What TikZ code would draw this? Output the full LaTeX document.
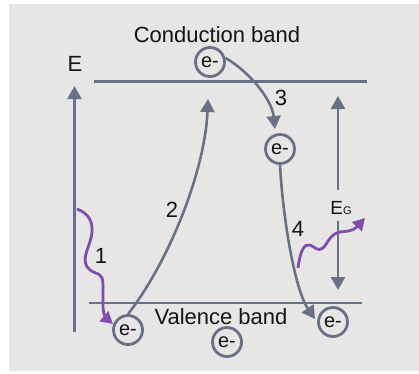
\documentclass[tikz,border=0pt]{standalone}
\usepackage{fontspec}
\setmainfont{Liberation Sans}
\usetikzlibrary{arrows.meta}
\definecolor{bg}{HTML}{E8E6E4}
\definecolor{slate}{HTML}{687185}
\definecolor{wave}{HTML}{7E4FAE}
\definecolor{ink}{HTML}{141414}
\tikzset{
  elec/.style={circle,draw=slate,line width=2.8pt,minimum size=29pt,inner sep=0pt,
    font=\fontsize{20}{20}\selectfont,text=ink},
  lbl/.style={font=\fontsize{22}{22}\selectfont,text=ink,inner sep=0pt},
  band/.style={draw=slate,line width=2.6pt},
  garrow/.style={draw=slate,line width=2.6pt,-{Triangle[length=13pt,width=14pt]}},
  parrow/.style={draw=wave,line width=2.8pt,-{Triangle[length=12pt,width=13pt]}},
}
\begin{document}
\begin{tikzpicture}[x=1pt,y=-1pt]
\useasboundingbox (0,0) rectangle (419,373);
\fill[white] (0,0) rectangle (419,373);
\fill[bg] (9,4) rectangle (419,371);
% band lines
\coordinate (cbL) at (94,81.7);
\coordinate (cbR) at (367,81.7);
\coordinate (vbL) at (89,303);
\coordinate (vbR) at (362,303);
\draw[band] (cbL) -- (cbR);
\draw[band] (vbL) -- (vbR);
% texts
\node[lbl] (cbt) at (217,35) {Conduction band};
\node[lbl] (vbt) at (221,317) {Valence band};
\node[lbl] (E) at (75,64) {E};
% energy axis
\coordinate (ax0) at (74.5,332);
\coordinate (ax1) at (74.5,86);
\draw[garrow] (ax0) -- (ax1);
% electrons
\node[elec] (c1) at (210,62) {e-};
\node[elec] (c2) at (280,149) {e-};
\node[elec] (c3) at (128,330) {e-};
\node[elec] (c4) at (227,342) {e-};
\node[elec] (c5) at (333,322) {e-};
% arrow 2
\coordinate (t2) at (208,99);
\draw[garrow] (c3.north) .. controls (170,260) and (205,170) .. (t2);
\node[lbl] (n2) at (172,210) {2};
% arrow 3
\coordinate (t3) at (275,129);
\draw[garrow] (c1.15) .. controls (250,72) and (272,100) .. (t3);
\node[lbl] (n3) at (281,98) {3};
% arrow 4
\coordinate (t4) at (315,319);
\draw[garrow] (c2.south) .. controls (283,220) and (295,290) .. (t4);
\node[lbl] (n4) at (298,229) {4};
% band gap
\node[lbl,font=\fontsize{19}{19}\selectfont] (EG) at (341,208) {E\fontsize{11}{11}\selectfont G};
\coordinate (egT) at (338,96);
\coordinate (egB) at (338,290);
\draw[garrow] (338,190) -- (egT);
\draw[garrow] (338,221) -- (egB);
% wave 1
\coordinate (w1s) at (77,209);
\coordinate (w1e) at (113,324);
\draw[parrow] (w1s) .. controls (88,213) and (95,222) .. (91,238)
  .. controls (88,250) and (80,262) .. (90,270)
  .. controls (97,275) and (103,272) .. (103,285)
  -- (103,306) .. controls (103,314) and (106,318) .. (w1e);
\node[lbl] (n1) at (101,256) {1};
% emission wave
\coordinate (w2s) at (298,268);
\coordinate (w2e) at (365,218);
\draw[parrow] (w2s) .. controls (300,252) and (304,243) .. (310,245)
  .. controls (315,247) and (318,252) .. (323,248)
  .. controls (328,243) and (330,234) .. (340,232)
  .. controls (346,231) and (352,232) .. (w2e);
\end{tikzpicture}
\end{document}
